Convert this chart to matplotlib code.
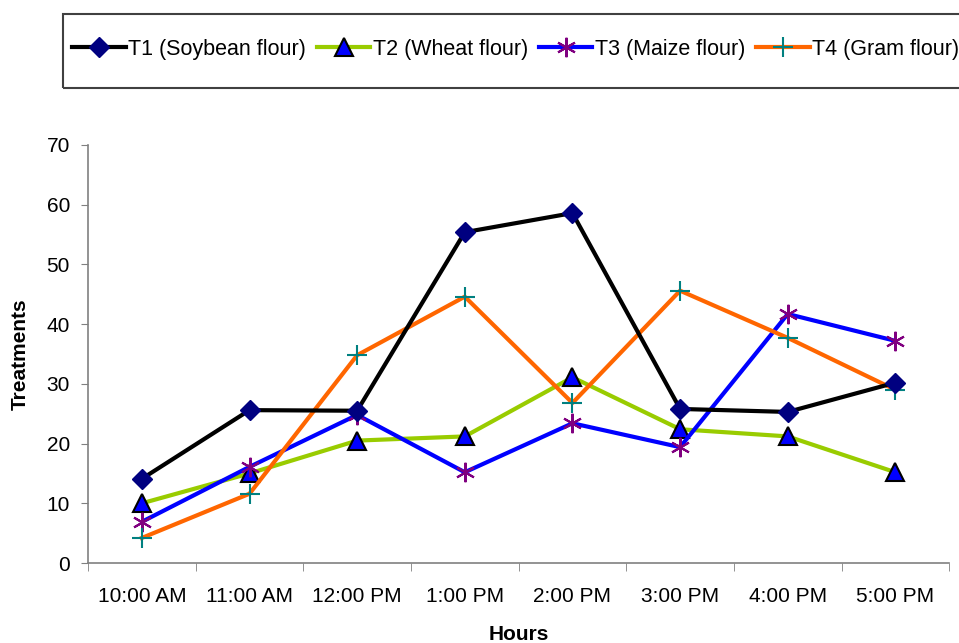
import numpy as np
import matplotlib
matplotlib.use('Agg')
import matplotlib.pyplot as plt
from matplotlib.patches import Rectangle

plt.rcParams['font.family'] = ['Liberation Sans', 'DejaVu Sans']

hours = ['10:00 AM', '11:00 AM', '12:00 PM', '1:00 PM', '2:00 PM', '3:00 PM', '4:00 PM', '5:00 PM']
t1 = [14.1, 25.6, 25.5, 55.4, 58.6, 25.8, 25.3, 30.2]   # soybean
t2 = [10.0, 15.0, 20.5, 21.2, 31.1, 22.4, 21.2, 15.2]   # wheat
t3 = [6.9, 16.1, 24.8, 15.2, 23.4, 19.4, 41.7, 37.2]    # maize
t4 = [4.2, 11.6, 34.8, 44.6, 26.8, 45.6, 37.7, 29.0]    # gram

labels = ['T1 (Soybean flour)', 'T2 (Wheat flour)', 'T3 (Maize flour)', 'T4 (Gram flour)']

fig = plt.figure(figsize=(9.59, 6.43), dpi=100)
ax = fig.add_axes([0.0918, 0.1244, 0.898, 0.6501])

x = np.arange(len(hours))
ax.plot(x, t1, color='black', lw=3, marker='D', ms=10, mfc='#000080', mec='#000080', label=labels[0], zorder=3)
ax.plot(x, t2, color='#99cc00', lw=3, marker='^', ms=13, mfc='#0000ff', mec='black', mew=1.5, label=labels[1], zorder=2)
ax.plot(x, t3, color='#0000ff', lw=3, marker=(6, 2, 0), ms=14, mec='#800080', mew=1.5, label=labels[2], zorder=2)
ax.plot(x, t4, color='#ff6600', lw=3, marker='+', ms=15, mec='#008080', mew=1.5, label=labels[3], zorder=2)

ax.set_xlim(-0.5, len(hours) - 0.5)
ax.set_ylim(0, 70)
ax.set_yticks(np.arange(0, 71, 10))
ax.set_xticks(x)
ax.set_xticklabels(hours, fontsize=15)
ax.set_xticks(np.arange(-0.5, len(hours), 1), minor=True)
ax.tick_params(axis='x', which='major', length=0, pad=17)
ax.tick_params(axis='x', which='minor', length=6, color='#808080', direction='out')
ax.tick_params(axis='y', labelsize=15, length=5, color='#808080', direction='out', pad=8)
for s in ['top', 'right']:
    ax.spines[s].set_visible(False)
for s in ['left', 'bottom']:
    ax.spines[s].set_color('#808080')
    ax.spines[s].set_linewidth(1.2)

ax.set_xlabel('Hours', fontsize=15, fontweight='bold', labelpad=14)
ax.set_ylabel('Treatments', fontsize=15, fontweight='bold', labelpad=12)

# legend box (runs off the right edge like the original)
fig.patches.append(Rectangle((63 / 959, 1 - 88 / 643), 0.96, 74 / 643, transform=fig.transFigure,
                             fill=False, edgecolor='#404040', lw=1.5))
fig.legend(loc='center left', bbox_to_anchor=(72 / 959, 1 - 49 / 643), ncol=4, frameon=False,
           fontsize=15.5, handlelength=2.5, handletextpad=0.1, columnspacing=0.5, borderpad=0,
           borderaxespad=0)

fig.savefig('out.png', dpi=100)
